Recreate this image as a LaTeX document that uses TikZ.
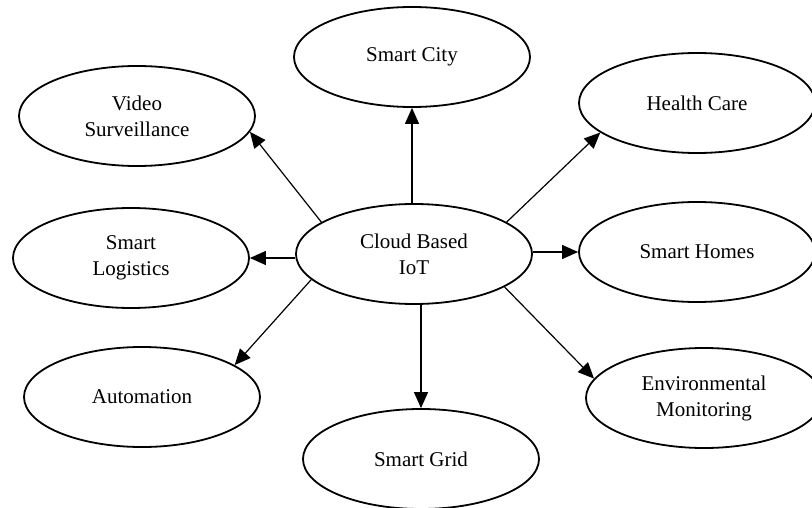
\documentclass[tikz,border=0pt]{standalone}
\usepackage{fontspec}
\setmainfont{Liberation Serif}
\usetikzlibrary{shapes.geometric,arrows.meta}
\begin{document}
\begin{tikzpicture}[x=1pt,y=-1pt,
  bubble/.style={draw=black,line width=1.8pt,ellipse,inner sep=0pt,
    minimum width=236pt,minimum height=100pt,align=center,
    font=\fontsize{21}{26}\selectfont},
  arr/.style={line width=1.2pt,-{Triangle[length=16pt,width=14pt]}}]
\useasboundingbox (0,0) rectangle (812,508);
\node[bubble] (cloud) at (414,254) {Cloud Based\\IoT};
\node[bubble] (city)  at (412,57)  {Smart City};
\node[bubble] (video) at (137,116) {Video\\Surveillance};
\node[bubble] (health) at (697,103) {Health Care};
\node[bubble] (logis) at (131,258) {Smart\\Logistics};
\node[bubble] (homes) at (697,252) {Smart Homes};
\node[bubble] (auto)  at (142,397) {Automation};
\node[bubble] (env)   at (704,398) {Environmental\\Monitoring};
\node[bubble] (grid)  at (421,459) {Smart Grid};
\draw[arr] (cloud.north -| city.south) -- (city.south);
\draw[arr] (cloud.161) -- (video.-8);
\draw[arr] (cloud.19) -- (health.197);
\draw[arr] (cloud.west |- logis.east) -- (logis.east);
\draw[arr] (cloud.east |- homes.west) -- (homes.west);
\draw[arr] (cloud.194) -- (auto.19);
\draw[arr] (cloud.-20) -- (env.170);
\draw[arr] (cloud.south -| grid.north) -- (grid.north);
\end{tikzpicture}
\end{document}
